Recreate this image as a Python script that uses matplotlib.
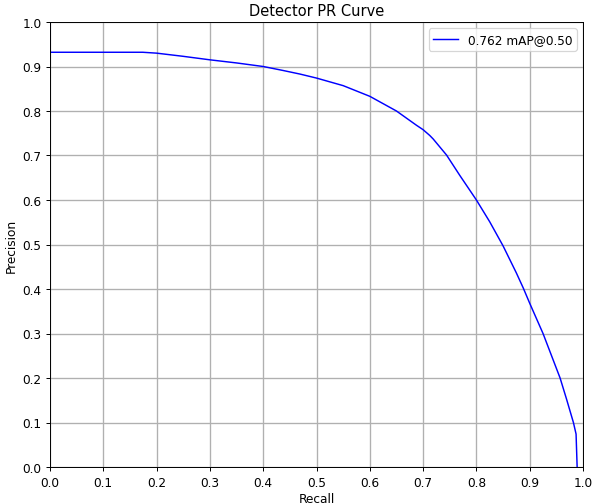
import numpy as np
from matplotlib import pyplot as plt

# values
recall = [0.0, 0.0, 0.174, 0.2, 0.249, 0.3, 0.35, 0.4, 0.4375, 0.469, 0.5,
          0.55, 0.6, 0.65, 0.6875, 0.7, 0.7125, 0.719, 0.744, 0.769, 0.8,
          0.825, 0.85, 0.875, 0.888, 0.9, 0.925, 0.957, 0.969, 0.982,
          0.987, 0.989]
precision = [1.0, 0.932, 0.932, 0.930, 0.923, 0.915, 0.908, 0.900, 0.891,
             0.883, 0.874, 0.857, 0.833, 0.800, 0.768, 0.758, 0.745, 0.737,
             0.701, 0.655, 0.600, 0.551, 0.497, 0.436, 0.402, 0.368, 0.300,
             0.200, 0.153, 0.100, 0.074, 0.0]
label = '0.762 mAP@0.50'

scale = 0.876
fig, ax = plt.subplots(figsize=(5.92 / scale, 5.05 / scale), dpi=100 * scale)
ax.plot(recall, precision, color='blue', linewidth=1.2, label=label)
ax.set_xlim(0, 1)
ax.set_ylim(0, 1)
ax.set_xticks(np.arange(0, 1.01, 0.1))
ax.set_yticks(np.arange(0, 1.01, 0.1))
ax.set_xlabel('Recall', labelpad=2.5)
ax.set_ylabel('Precision')
ax.set_title('Detector PR Curve')
ax.grid(True, color='#b0b0b0', linewidth=1.1)
ax.legend(loc='upper right')
fig.subplots_adjust(left=50 / 592, right=583 / 592, top=1 - 23 / 505, bottom=1 - 468 / 505)
fig.savefig('out.png')
